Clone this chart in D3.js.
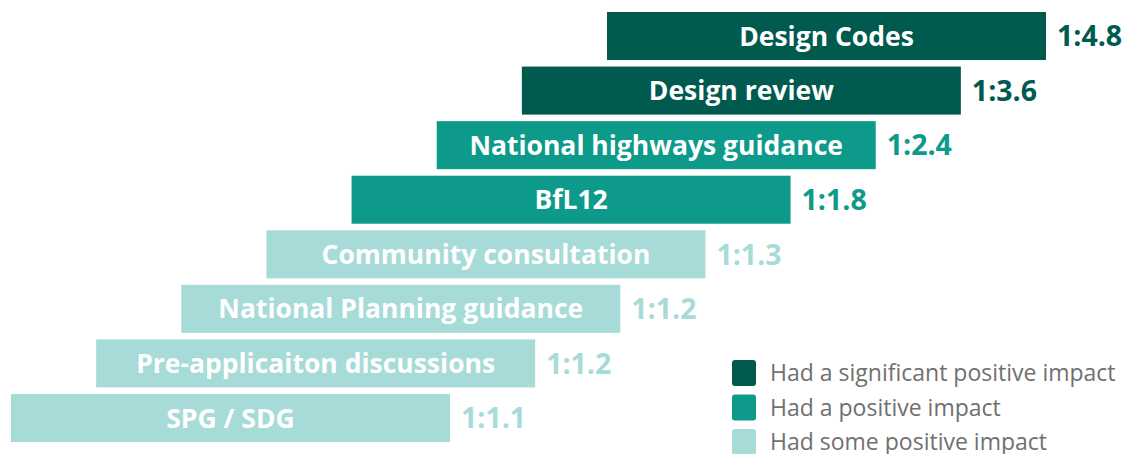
<!DOCTYPE html>
<html>
<head>
<meta charset="utf-8">
<script src="https://cdn.jsdelivr.net/npm/d3@7"></script>
<style>
  html, body { margin: 0; padding: 0; background: #fff; }
  svg { display: block; }
</style>
</head>
<body>
<svg id="chart" width="1139" height="454"></svg>
<script>
// ---- data ----
const categories = ["Design Codes", "Design review", "National highways guidance", "BfL12",
  "Community consultation", "National Planning guidance", "Pre-applicaiton discussions", "SPG / SDG"];
const ratios = [4.8, 3.6, 2.4, 1.8, 1.3, 1.2, 1.2, 1.1];
const ratioLabels = ["1:4.8", "1:3.6", "1:2.4", "1:1.8", "1:1.3", "1:1.2", "1:1.2", "1:1.1"];
const impactLevel = ["significant", "significant", "positive", "positive", "some", "some", "some", "some"];
const legendKeys = ["significant", "positive", "some"];
const legendLabels = ["Had a significant positive impact", "Had a positive impact", "Had some positive impact"];

const colors = { significant: "#005a4e", positive: "#0d9a8a", some: "#a7dbd8" };
const data = categories.map((c, i) => ({ cat: c, value: ratios[i], label: ratioLabels[i], level: impactLevel[i] }));

const svg = d3.select("#chart");
const barWidth = 439;
const font = "'Open Sans', Lato, sans-serif";

// rows
const y = d3.scaleBand().domain(categories).range([12, 442]).paddingInner(0.12).paddingOuter(0);
// staircase offset by rank (lowest ratio at far left)
const x = d3.scalePoint().domain(categories.slice().reverse()).range([11, 607]);

const g = svg.append("g");
const rows = g.selectAll("g.row").data(data).join("g").attr("class", "row");

rows.append("rect")
  .attr("x", d => x(d.cat))
  .attr("y", d => y(d.cat))
  .attr("width", barWidth)
  .attr("height", y.bandwidth())
  .attr("fill", d => colors[d.level]);

rows.append("text")
  .attr("x", d => x(d.cat) + barWidth / 2)
  .attr("y", d => y(d.cat) + y.bandwidth() / 2)
  .attr("dy", "0.36em")
  .attr("text-anchor", "middle")
  .attr("fill", "#ffffff")
  .style("font-family", font)
  .style("font-weight", "700")
  .style("font-size", "26.5px")
  .text(d => d.cat);

rows.append("text")
  .attr("x", d => x(d.cat) + barWidth + 11)
  .attr("y", d => y(d.cat) + y.bandwidth() / 2)
  .attr("dy", "0.36em")
  .attr("fill", d => colors[d.level])
  .style("font-family", font)
  .style("font-weight", "700")
  .style("font-size", "28.5px")
  .text(d => d.label);

// legend
const ly = d3.scalePoint().domain(legendKeys).range([373, 442]);
const lg = svg.append("g").selectAll("g").data(legendKeys).join("g");
lg.append("rect")
  .attr("x", 732).attr("y", d => ly(d) - 13)
  .attr("width", 24).attr("height", 26)
  .attr("rx", 3).attr("ry", 3)
  .attr("fill", d => colors[d]);
lg.append("text")
  .attr("x", 770).attr("y", d => ly(d))
  .attr("dy", "0.36em")
  .attr("fill", "#707070")
  .style("font-family", font)
  .style("font-size", "23px")
  .text((d, i) => legendLabels[i]);
</script>
</body>
</html>
